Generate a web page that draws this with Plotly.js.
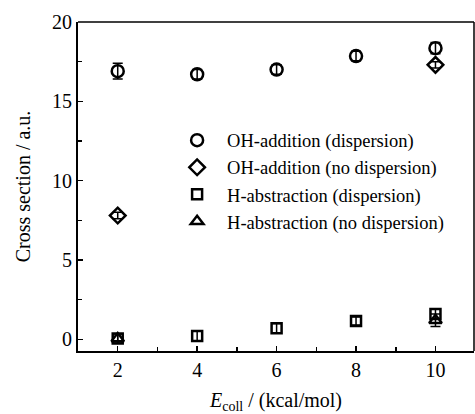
<!DOCTYPE html>
<html><head><meta charset="utf-8">
<script src="https://cdn.plot.ly/plotly-3.0.1.min.js"></script>
<style>html,body{margin:0;padding:0;background:#fff}#chart{width:475px;height:414px}</style>
</head><body><div id="chart"></div>
<script>
const energies = [2, 4, 6, 8, 10];
const ohAddDisp = [16.9, 16.7, 17.0, 17.85, 18.35];
const ohAddDispErr = [0.5, 0.3, 0.3, 0.3, 0.35];
const ohAddNoDisp = [7.8, null, null, null, 17.3];
const ohAddNoDispErr = [0.2, 0, 0, 0, 0.2];
const hAbsDisp = [0.05, 0.2, 0.7, 1.15, 1.6];
const hAbsDispErr = [0.3, 0.3, 0.3, 0.25, 0.3];
const hAbsNoDisp = [0.05, null, null, null, 1.2];
const hAbsNoDispErr = [0.3, 0, 0, 0, 0.4];
const names = ['OH-addition (dispersion)', 'OH-addition (no dispersion)', 'H-abstraction (dispersion)', 'H-abstraction (no dispersion)'];
const symbols = ['circle-open', 'diamond-open', 'square-open', 'triangle-up-open'];

const ys = [ohAddDisp, ohAddNoDisp, hAbsDisp, hAbsNoDisp];
const errs = [ohAddDispErr, ohAddNoDispErr, hAbsDispErr, hAbsNoDispErr];
const sizes = [12, 12, 10, 11];
const traces = ys.map((y, i) => ({
  x: energies, y: y, type: 'scatter', mode: 'markers', name: names[i],
  marker: {symbol: symbols[i], size: sizes[i], color: '#000', line: {width: 2.5, color: '#000'}},
  error_y: {type: 'data', array: errs[i], visible: true, color: '#000', thickness: 1.5, width: 5},
  cliponaxis: false
}));

const font = {family: '"Liberation Serif", "Times New Roman", serif', size: 20, color: '#000'};
const legFont = {family: '"Liberation Serif", "Times New Roman", serif', size: 18.5, color: '#000'};
const layout = {
  width: 475, height: 414,
  margin: {l: 78, r: 1, t: 22, b: 63},
  paper_bgcolor: '#fff', plot_bgcolor: '#fff',
  font: font,
  showlegend: true,
  legend: {x: 0.225, y: 0.697, xanchor: 'left', yanchor: 'top', bgcolor: 'rgba(0,0,0,0)',
           font: legFont, tracegroupgap: 0, itemwidth: 50},
  xaxis: {
    range: [1.0, 10.97], tickvals: energies, ticktext: energies.map(String),
    showline: true, linewidth: 2, linecolor: '#000', showgrid: false, zeroline: false,
    ticks: 'inside', ticklen: 5, tickwidth: 1.5, tickcolor: '#000',
    minor: {ticks: 'inside', dtick: 1, ticklen: 4, tickwidth: 1.5, tickcolor: '#000'},
    tickfont: font,
    title: {text: '<i>E</i><sub>coll</sub> / (kcal/mol)', font: font, standoff: 14}
  },
  yaxis: {
    range: [-0.74, 20], tickvals: [0, 5, 10, 15, 20],
    showline: true, linewidth: 2, linecolor: '#000', showgrid: false, zeroline: false,
    ticks: 'inside', ticklen: 5, tickwidth: 1.5, tickcolor: '#000',
    minor: {ticks: 'inside', dtick: 2.5, ticklen: 4, tickwidth: 1.5, tickcolor: '#000'},
    tickfont: font,
    title: {text: 'Cross section / a.u.', font: font, standoff: 16}
  },
  shapes: [
    {type: 'line', xref: 'paper', yref: 'paper', x0: 0, x1: 1, y0: 1, y1: 1, line: {color: '#000', width: 1.5}},
    {type: 'line', xref: 'paper', yref: 'paper', x0: 1, x1: 1, y0: 0, y1: 1, line: {color: '#000', width: 1.5}}
  ]
};
Plotly.newPlot('chart', traces, layout, {displayModeBar: false, staticPlot: true});
</script></body></html>
